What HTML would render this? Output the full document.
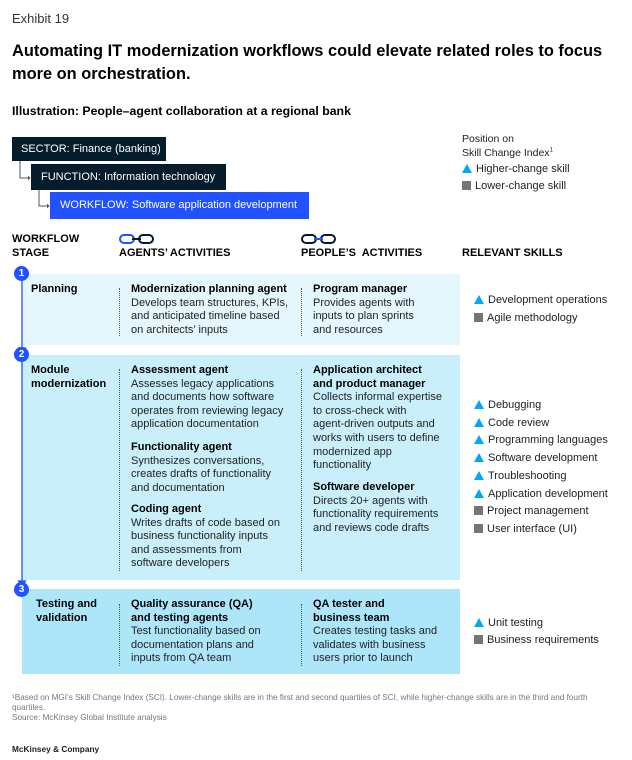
<!DOCTYPE html>
<html><head><meta charset="utf-8"><style>
body{margin:0;width:632px;height:760px;background:#fff;font-family:"Liberation Sans",Arial,sans-serif;color:#000;position:relative;overflow:hidden}
.a{position:absolute;white-space:nowrap}
.t{font-size:11px;line-height:13.6px;color:#222}
.t b{color:#000}
.h{font-size:11px;font-weight:bold;line-height:13.5px}
.box{position:absolute;left:22px;width:438px}
.dot{position:absolute;width:0;border-left:1.3px dotted #555}
.c{position:absolute;width:15px;height:15px;border-radius:50%;background:#2251ff;color:#fff;font-size:10px;font-weight:bold;text-align:center;line-height:15px;left:14px}
.tri{display:inline-block;width:0;height:0;border-left:5px solid transparent;border-right:5px solid transparent;border-bottom:9px solid #00a9f4;margin-right:4px;vertical-align:-1px}
.sq{display:inline-block;width:9px;height:9px;background:#757575;margin-right:4px;vertical-align:-1px}
.sk{font-size:11px;color:#222}
</style></head><body>
<div class="a" style="left:12px;top:11px;font-size:13px;color:#333">Exhibit 19</div>
<div class="a" style="left:12px;top:40px;font-size:16.4px;font-weight:bold;line-height:23px">Automating IT modernization workflows could elevate related roles to focus<br>more on orchestration.</div>
<div class="a" style="left:12px;top:104px;font-size:12.3px;font-weight:bold">Illustration: People–agent collaboration at a regional bank</div>

<div class="a" style="left:12px;top:137px;width:154px;height:24px;background:#051c2c;color:#fff;font-size:11px;line-height:24px;text-indent:9px">SECTOR: Finance (banking)</div>
<div class="a" style="left:31px;top:164px;width:195px;height:26px;background:#051c2c;color:#fff;font-size:11px;line-height:26px;text-indent:10px">FUNCTION: Information technology</div>
<div class="a" style="left:50px;top:192px;width:259px;height:27px;background:#2251ff;color:#fff;font-size:11px;line-height:27px;text-indent:10px">WORKFLOW: Software application development</div>
<svg class="a" style="left:0;top:0" width="60" height="220"><path d="M20 161V178H28M39 190V206H47" stroke="#555" fill="none" stroke-width="1"/><path d="M28 175.5L30.5 178L28 180.5Z M47 203.5L49.5 206L47 208.5Z" fill="#555"/></svg>

<div class="a" style="left:462px;top:132px;font-size:10.5px;line-height:14px;color:#222">Position on<br>Skill Change Index<sup style="font-size:6px;line-height:0">1</sup></div>
<div class="a sk" style="left:462px;top:163px"><span class="tri"></span>Higher-change skill</div>
<div class="a sk" style="left:462px;top:180px"><span class="sq"></span>Lower-change skill</div>

<div class="a h" style="left:12px;top:233px">WORKFLOW<br>STAGE</div>
<svg class="a" style="left:119px;top:233px" width="40" height="12"><g fill="none" stroke-width="2"><rect x="1" y="2" width="14" height="8" rx="4" stroke="#2251ff"/><rect x="20" y="2" width="14" height="8" rx="4" stroke="#051c2c"/><line x1="13" y1="6" x2="22" y2="6" stroke="#051c2c"/></g></svg>
<div class="a h" style="left:119px;top:247px">AGENTS’ ACTIVITIES</div>
<svg class="a" style="left:301px;top:233px" width="40" height="12"><g fill="none" stroke-width="2"><rect x="1" y="2" width="14" height="8" rx="4" stroke="#051c2c"/><rect x="20" y="2" width="14" height="8" rx="4" stroke="#051c2c"/><line x1="13" y1="6" x2="22" y2="6" stroke="#2251ff"/></g></svg>
<div class="a h" style="left:301px;top:247px">PEOPLE’S&nbsp; ACTIVITIES</div>
<div class="a h" style="left:462px;top:247px">RELEVANT SKILLS</div>

<div class="box" style="top:274px;height:71px;background:#e4f7fd"></div>
<div class="box" style="top:355px;height:225px;background:#c9effb"></div>
<div class="box" style="top:589px;height:85px;background:#aee6f9"></div>
<svg class="a" style="left:0;top:270px" width="40" height="330"><g stroke="#2251ff" stroke-width="1.3" fill="#2251ff"><line x1="22" y1="3" x2="22" y2="80"/><path d="M18.5 78L25.5 78L22 84Z"/><line x1="22" y1="90" x2="22" y2="314"/><path d="M18.5 311L25.5 311L22 317Z"/></g></svg>
<div class="c" style="top:266px">1</div>
<div class="c" style="top:347px">2</div>
<div class="c" style="top:582px">3</div>

<div class="dot" style="left:119px;top:288px;height:48px"></div>
<div class="dot" style="left:301px;top:288px;height:48px"></div>
<div class="dot" style="left:119px;top:369px;height:202px"></div>
<div class="dot" style="left:301px;top:369px;height:202px"></div>
<div class="dot" style="left:119px;top:604px;height:62px"></div>
<div class="dot" style="left:301px;top:604px;height:62px"></div>

<div class="a h" style="left:31px;top:283px">Planning</div>
<div class="a t" style="left:131px;top:283px"><b>Modernization planning agent</b><br>Develops team structures, KPIs,<br>and anticipated timeline based<br>on architects’ inputs</div>
<div class="a t" style="left:313px;top:283px"><b>Program manager</b><br>Provides agents with<br>inputs to plan sprints<br>and resources</div>
<div class="a sk" style="left:474px;top:294px"><span class="tri"></span>Development operations</div>
<div class="a sk" style="left:474px;top:312px"><span class="sq"></span>Agile methodology</div>

<div class="a h" style="left:31px;top:364px">Module<br>modernization</div>
<div class="a t" style="left:131px;top:364px"><b>Assessment agent</b><br>Assesses legacy applications<br>and documents how software<br>operates from reviewing legacy<br>application documentation</div>
<div class="a t" style="left:131px;top:441px"><b>Functionality agent</b><br>Synthesizes conversations,<br>creates drafts of functionality<br>and documentation</div>
<div class="a t" style="left:131px;top:503px"><b>Coding agent</b><br>Writes drafts of code based on<br>business functionality inputs<br>and assessments from<br>software developers</div>
<div class="a t" style="left:313px;top:364px"><b>Application architect<br>and product manager</b><br>Collects informal expertise<br>to cross-check with<br>agent-driven outputs and<br>works with users to define<br>modernized app<br>functionality</div>
<div class="a t" style="left:313px;top:481px"><b>Software developer</b><br>Directs 20+ agents with<br>functionality requirements<br>and reviews code drafts</div>
<div class="a sk" style="left:474px;top:399px"><span class="tri"></span>Debugging</div>
<div class="a sk" style="left:474px;top:417px"><span class="tri"></span>Code review</div>
<div class="a sk" style="left:474px;top:434px"><span class="tri"></span>Programming languages</div>
<div class="a sk" style="left:474px;top:452px"><span class="tri"></span>Software development</div>
<div class="a sk" style="left:474px;top:470px"><span class="tri"></span>Troubleshooting</div>
<div class="a sk" style="left:474px;top:488px"><span class="tri"></span>Application development</div>
<div class="a sk" style="left:474px;top:505px"><span class="sq"></span>Project management</div>
<div class="a sk" style="left:474px;top:523px"><span class="sq"></span>User interface (UI)</div>

<div class="a h" style="left:36px;top:598px">Testing and<br>validation</div>
<div class="a t" style="left:131px;top:598px"><b>Quality assurance (QA)<br>and testing agents</b><br>Test functionality based on<br>documentation plans and<br>inputs from QA team</div>
<div class="a t" style="left:313px;top:598px"><b>QA tester and<br>business team</b><br>Creates testing tasks and<br>validates with business<br>users prior to launch</div>
<div class="a sk" style="left:474px;top:617px"><span class="tri"></span>Unit testing</div>
<div class="a sk" style="left:474px;top:634px"><span class="sq"></span>Business requirements</div>

<div class="a" style="left:12px;top:693px;font-size:8.2px;line-height:9.8px;color:#777">¹Based on MGI’s Skill Change Index (SCI). Lower-change skills are in the first and second quartiles of SCI, while higher-change skills are in the third and fourth<br>quartiles.<br>Source: McKinsey Global Institute analysis</div>
<div class="a" style="left:12px;top:744px;font-size:8.3px;font-weight:bold;color:#222">McKinsey &amp; Company</div>
</body></html>
